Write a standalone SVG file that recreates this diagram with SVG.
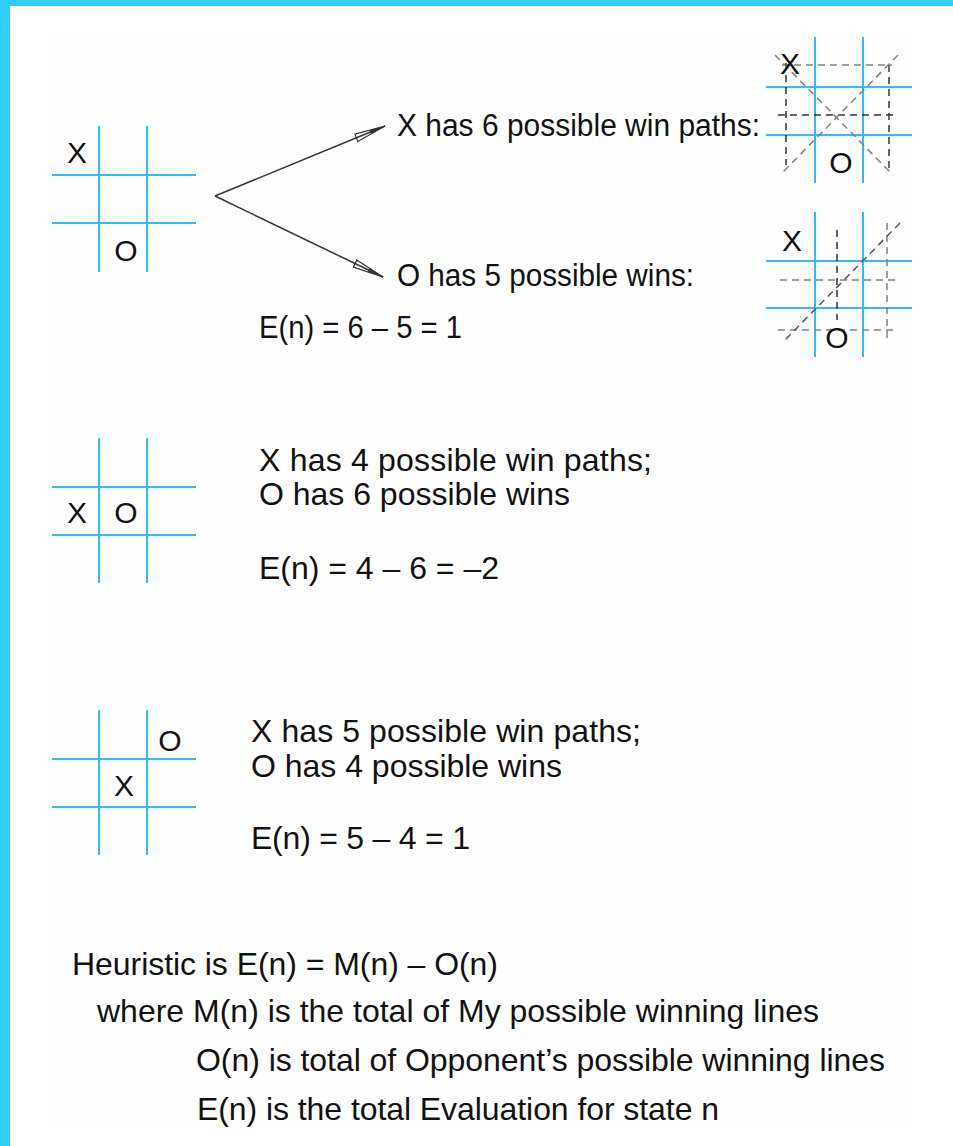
<svg xmlns="http://www.w3.org/2000/svg" width="953" height="1146" viewBox="0 0 953 1146">
<style>
.t{font-family:"Liberation Sans",Arial,Helvetica,sans-serif;fill:#111;}
.g{stroke:#33bbee;stroke-width:2;fill:none;}
.dk{stroke:#333;stroke-width:1.5;stroke-dasharray:7 5;fill:none;}
.gr{stroke:#808080;stroke-width:1.5;stroke-dasharray:7 5;fill:none;}
.m{font-family:"Liberation Sans",Arial,Helvetica,sans-serif;fill:#111;text-anchor:middle;}
.arr{stroke:#333;stroke-width:1.5;fill:none;marker-end:url(#ah);}
</style>
<defs>
<marker id="ah" markerUnits="userSpaceOnUse" markerWidth="34" markerHeight="14" viewBox="0 0 34 14" refX="32" refY="7" orient="auto">
<path d="M1,3 L32,7 L1,11 Z" fill="none" stroke="#333" stroke-width="1.2"/>
<path d="M16,5 L32,7 L16,9 Z" fill="#333"/>
</marker>
</defs>
<rect x="0" y="0" width="953" height="1146" fill="#ffffff"/>
<rect x="50" y="36" width="861" height="1092" fill="#fefefe"/>
<rect x="0" y="0" width="953" height="6" fill="#33ccff"/>
<rect x="0" y="0" width="10" height="1146" fill="#33ccff"/>

<g id="board1">
<path class="g" d="M99,126V272M147,126V272M52,175H196M52,223H196"/>
<text class="m" x="77" y="163" font-size="30">X</text>
<text class="m" x="126" y="261" font-size="30">O</text>
</g>

<g id="board2">
<path class="g" d="M99,438V583M147,438V583M52,487H196M52,535H196"/>
<text class="m" x="77" y="523" font-size="30">X</text>
<text class="m" x="126" y="523" font-size="30">O</text>
</g>

<g id="board3">
<path class="g" d="M99,710V855M147,710V855M52,759H196M52,807H196"/>
<text class="m" x="124" y="796" font-size="30">X</text>
<text class="m" x="170" y="751" font-size="30">O</text>
</g>

<g id="xwins">
<path class="g" d="M815,37V183M863,37V183M766,87H912M766,135H912"/>
<path class="gr" d="M782,65H892"/>
<path class="dk" d="M778,115H897"/>
<path class="dk" d="M786,63V165"/>
<path class="dk" d="M889,65V168"/>
<path class="gr" d="M775,55L893,175"/>
<path class="gr" d="M898,55L782,173"/>
<text class="m" x="790" y="74" font-size="30">X</text>
<text class="m" x="841" y="173" font-size="30">O</text>
</g>

<g id="owins">
<path class="g" d="M815,212V357M863,212V357M766,261H912M766,308H912"/>
<path class="dk" d="M837,230V320"/>
<path class="gr" d="M780,280H897"/>
<path class="gr" d="M778,330H897"/>
<path class="gr" d="M887,223V340"/>
<path class="dk" d="M900,223L785,340" style="stroke:#555"/>
<text class="m" x="792" y="251" font-size="30">X</text>
<text class="m" x="837" y="348" font-size="30">O</text>
</g>

<g id="connectors">
<path class="arr" d="M215,196L385,126"/>
<path class="arr" d="M215,196L383,277"/>
</g>

<g id="label-x6">
<text class="t" x="397" y="136" font-size="31" textLength="363" lengthAdjust="spacingAndGlyphs">X has 6 possible win paths:</text>
</g>
<g id="label-o5">
<text class="t" x="397" y="286" font-size="31" textLength="297" lengthAdjust="spacingAndGlyphs">O has 5 possible wins:</text>
</g>
<g id="eval1">
<text class="t" x="259" y="338" font-size="31" textLength="203" lengthAdjust="spacingAndGlyphs">E(n) = 6 – 5 = 1</text>
</g>

<g id="text2">
<text class="t" x="259" y="471" font-size="32" textLength="393">X has 4 possible win paths;</text>
<text class="t" x="259" y="505" font-size="32" textLength="311">O has 6 possible wins</text>
<text class="t" x="259" y="579" font-size="32" textLength="240">E(n) = 4 – 6 = –2</text>
</g>

<g id="text3">
<text class="t" x="251" y="742" font-size="32" textLength="390">X has 5 possible win paths;</text>
<text class="t" x="251" y="777" font-size="32" textLength="311">O has 4 possible wins</text>
<text class="t" x="251" y="849" font-size="32" textLength="219">E(n) = 5 – 4 = 1</text>
</g>

<g id="heuristic">
<text class="t" x="72" y="975" font-size="32" textLength="426">Heuristic is E(n) = M(n) – O(n)</text>
<text class="t" x="97" y="1022" font-size="32" textLength="722">where M(n) is the total of My possible winning lines</text>
<text class="t" x="196" y="1071" font-size="32" textLength="689">O(n) is total of Opponent’s possible winning lines</text>
<text class="t" x="197" y="1120" font-size="32" textLength="522">E(n) is the total Evaluation for state n</text>
</g>
</svg>
